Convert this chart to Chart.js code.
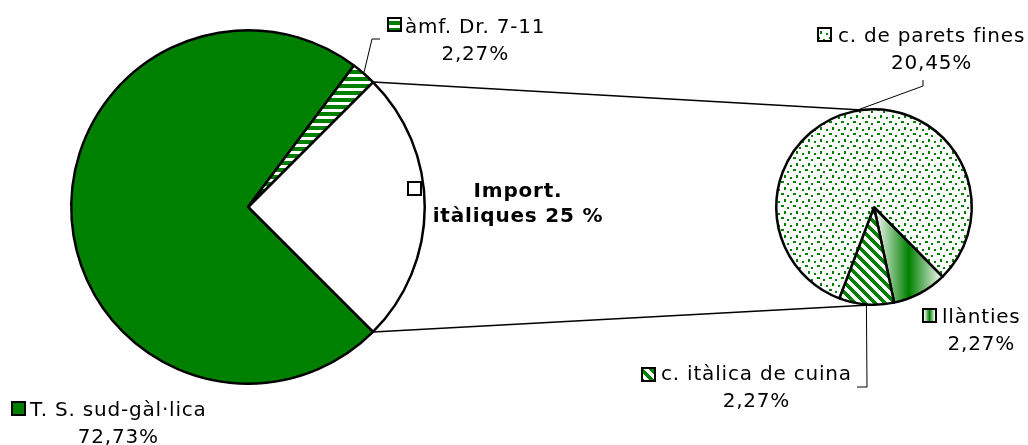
<!DOCTYPE html>
<html>
<head>
<meta charset="utf-8">
<script src="https://cdn.jsdelivr.net/npm/chart.js@4.4.1/dist/chart.umd.min.js"></script>
<style>
  body { margin: 0; background: #fff; }
  #wrap { position: relative; width: 1028px; height: 445px; }
  #wrap canvas { position: absolute; left: 0; top: 0; }
</style>
</head>
<body>
<div id="wrap">
  <canvas id="mainPie" width="1028" height="445"></canvas>
  <canvas id="subPie" width="1028" height="445"></canvas>
</div>
<script>
// main pie (first slice is the one broken out into the small pie)
var mainLabels = ['Import. itàliques', 'T. S. sud-gàl·lica', 'àmf. Dr. 7-11'];
var mainValues = [25, 72.73, 2.27];

// small pie: the Italian imports
var subLabels = ['llànties', 'c. itàlica de cuina', 'c. de parets fines'];
var subValues = [2.27, 2.27, 20.45];

var green = '#008000';
var fontName = '"DejaVu Sans", Verdana, sans-serif';

// where the labels sit: key box, first text line (baseline)
var mainSpots = [
  {kx: 407, ky: 181, tx: 518, ty: 197, center: true, bold: true},
  {kx: 11, ky: 401, tx: 30, ty: 416},
  {kx: 387, ky: 17, tx: 405, ty: 33, leader: [[372, 39], [380, 39]]}
];
var subSpots = [
  {kx: 922, ky: 308, tx: 942, ty: 323},
  {kx: 641, ky: 367, tx: 661, ty: 380, leader: [[867, 387], [857, 387]]},
  {kx: 817, ky: 27, tx: 838, ty: 42, leader: [[923, 86], [923, 80]]}
];

function pct(v) {
  if (Math.round(v) === v) return v + ' %';
  return v.toFixed(2).replace('.', ',') + '%';
}

function makePattern(size, paint) {
  var c = document.createElement('canvas');
  c.width = size;
  c.height = size;
  var g = c.getContext('2d');
  g.fillStyle = '#fff';
  g.fillRect(0, 0, size, size);
  g.fillStyle = green;
  paint(g, size);
  return g.createPattern(c, 'repeat');
}

var stripes = makePattern(7, function (g) {
  g.fillRect(0, 0, 7, 4);
});
var diagonal = makePattern(10, function (g, n) {
  for (var y = 0; y < n; y++) {
    for (var x = 0; x < n; x++) {
      if (((x - y + n) % n) < 5) g.fillRect(x, y, 1, 1);
    }
  }
});
var dots = makePattern(12, function (g) {
  g.fillRect(1, 1, 3, 2);
  g.fillRect(7, 3, 2, 2);
  g.fillRect(4, 7, 2, 3);
  g.fillRect(10, 9, 2, 2);
});

function lampFill(c) {
  var area = c.chart.chartArea;
  if (!area) return green;
  var cx = (area.left + area.right) / 2;
  var r = Math.min(area.right - area.left, area.bottom - area.top) / 2;
  var g = c.chart.ctx.createLinearGradient(cx, 0, cx + 0.7 * r, 0);
  g.addColorStop(0, '#fff');
  g.addColorStop(0.5, green);
  g.addColorStop(1, '#fff');
  return g;
}

var mainFills = ['#fff', green, stripes];

var mainChart = new Chart(document.getElementById('mainPie'), {
  type: 'pie',
  data: {
    labels: mainLabels,
    datasets: [{
      data: mainValues,
      backgroundColor: mainFills,
      borderColor: '#000',
      borderWidth: 2.5
    }]
  },
  options: {
    responsive: false,
    animation: false,
    events: [],
    rotation: 45,
    layout: {padding: {left: 70, right: 602, top: 29, bottom: 60}},
    plugins: {legend: {display: false}, tooltip: {enabled: false}}
  }
});

function line(ctx, pts, w) {
  ctx.beginPath();
  ctx.lineWidth = w;
  ctx.moveTo(pts[0][0], pts[0][1]);
  for (var i = 1; i < pts.length; i++) ctx.lineTo(pts[i][0], pts[i][1]);
  ctx.stroke();
}

function edgePoint(el, a) {
  return [el.x + el.outerRadius * Math.cos(a), el.y + el.outerRadius * Math.sin(a)];
}

function drawLabel(ctx, spot, fill, text, value, el) {
  if (spot.leader) {
    var mid = (el.startAngle + el.endAngle) / 2;
    line(ctx, [edgePoint(el, mid)].concat(spot.leader), 1);
  }
  // key box
  ctx.fillStyle = fill;
  ctx.fillRect(spot.kx + 1, spot.ky + 1, 13, 13);
  ctx.lineWidth = 2;
  ctx.strokeRect(spot.kx + 1, spot.ky + 1, 13, 13);

  ctx.fillStyle = '#000';
  ctx.font = (spot.bold ? 'bold ' : '') + '20px ' + fontName;
  ctx.textBaseline = 'alphabetic';
  var first = text, second = pct(value);
  if (spot.center) {
    var sp = text.indexOf(' ');
    first = text.slice(0, sp);
    second = text.slice(sp + 1) + ' ' + second;
    ctx.textAlign = 'center';
    ctx.fillText(first, spot.tx, spot.ty);
    ctx.fillText(second, spot.tx, spot.ty + 25);
    return;
  }
  ctx.textAlign = 'left';
  var w = ctx.measureText(first).width;
  ctx.fillText(first, spot.tx, spot.ty);
  ctx.textAlign = 'center';
  ctx.fillText(second, spot.tx + w / 2, spot.ty + 27);
}

var pieOfPie = {
  id: 'pieOfPie',
  afterDraw: function (chart) {
    var ctx = chart.ctx;
    var mainArcs = mainChart.getDatasetMeta(0).data;
    var subArcs = chart.getDatasetMeta(0).data;
    var big = mainArcs[0];
    var small = subArcs[0];
    var R = big.outerRadius, r = small.outerRadius;
    var tilt = Math.asin((R - r) / (small.x - big.x));

    ctx.save();
    ctx.strokeStyle = '#000';
    ctx.letterSpacing = '0.8px';
    line(ctx, [edgePoint(big, big.startAngle), edgePoint(small, -Math.PI / 2 - tilt)], 1.5);
    line(ctx, [edgePoint(big, big.endAngle), edgePoint(small, Math.PI / 2)], 1.5);

    for (var i = 0; i < mainLabels.length; i++) {
      drawLabel(ctx, mainSpots[i], mainFills[i], mainLabels[i], mainValues[i], mainArcs[i]);
    }
    var keyFills = [null, diagonal, dots];
    var ks = subSpots[0];
    var kg = ctx.createLinearGradient(ks.kx + 2, 0, ks.kx + 13, 0);
    kg.addColorStop(0, '#fff');
    kg.addColorStop(0.5, green);
    kg.addColorStop(1, '#fff');
    keyFills[0] = kg;
    for (var j = 0; j < subLabels.length; j++) {
      drawLabel(ctx, subSpots[j], keyFills[j], subLabels[j], subValues[j], subArcs[j]);
    }
    ctx.restore();
  }
};

var subChart = new Chart(document.getElementById('subPie'), {
  type: 'pie',
  data: {
    labels: subLabels,
    datasets: [{
      data: subValues,
      backgroundColor: function (c) {
        return [lampFill(c), diagonal, dots][c.dataIndex];
      },
      borderColor: '#000',
      borderWidth: 2.5
    }]
  },
  options: {
    responsive: false,
    animation: false,
    events: [],
    rotation: 135.4,
    layout: {padding: {left: 775, right: 55, top: 108, bottom: 139}},
    plugins: {legend: {display: false}, tooltip: {enabled: false}}
  },
  plugins: [pieOfPie]
});
</script>
</body>
</html>
